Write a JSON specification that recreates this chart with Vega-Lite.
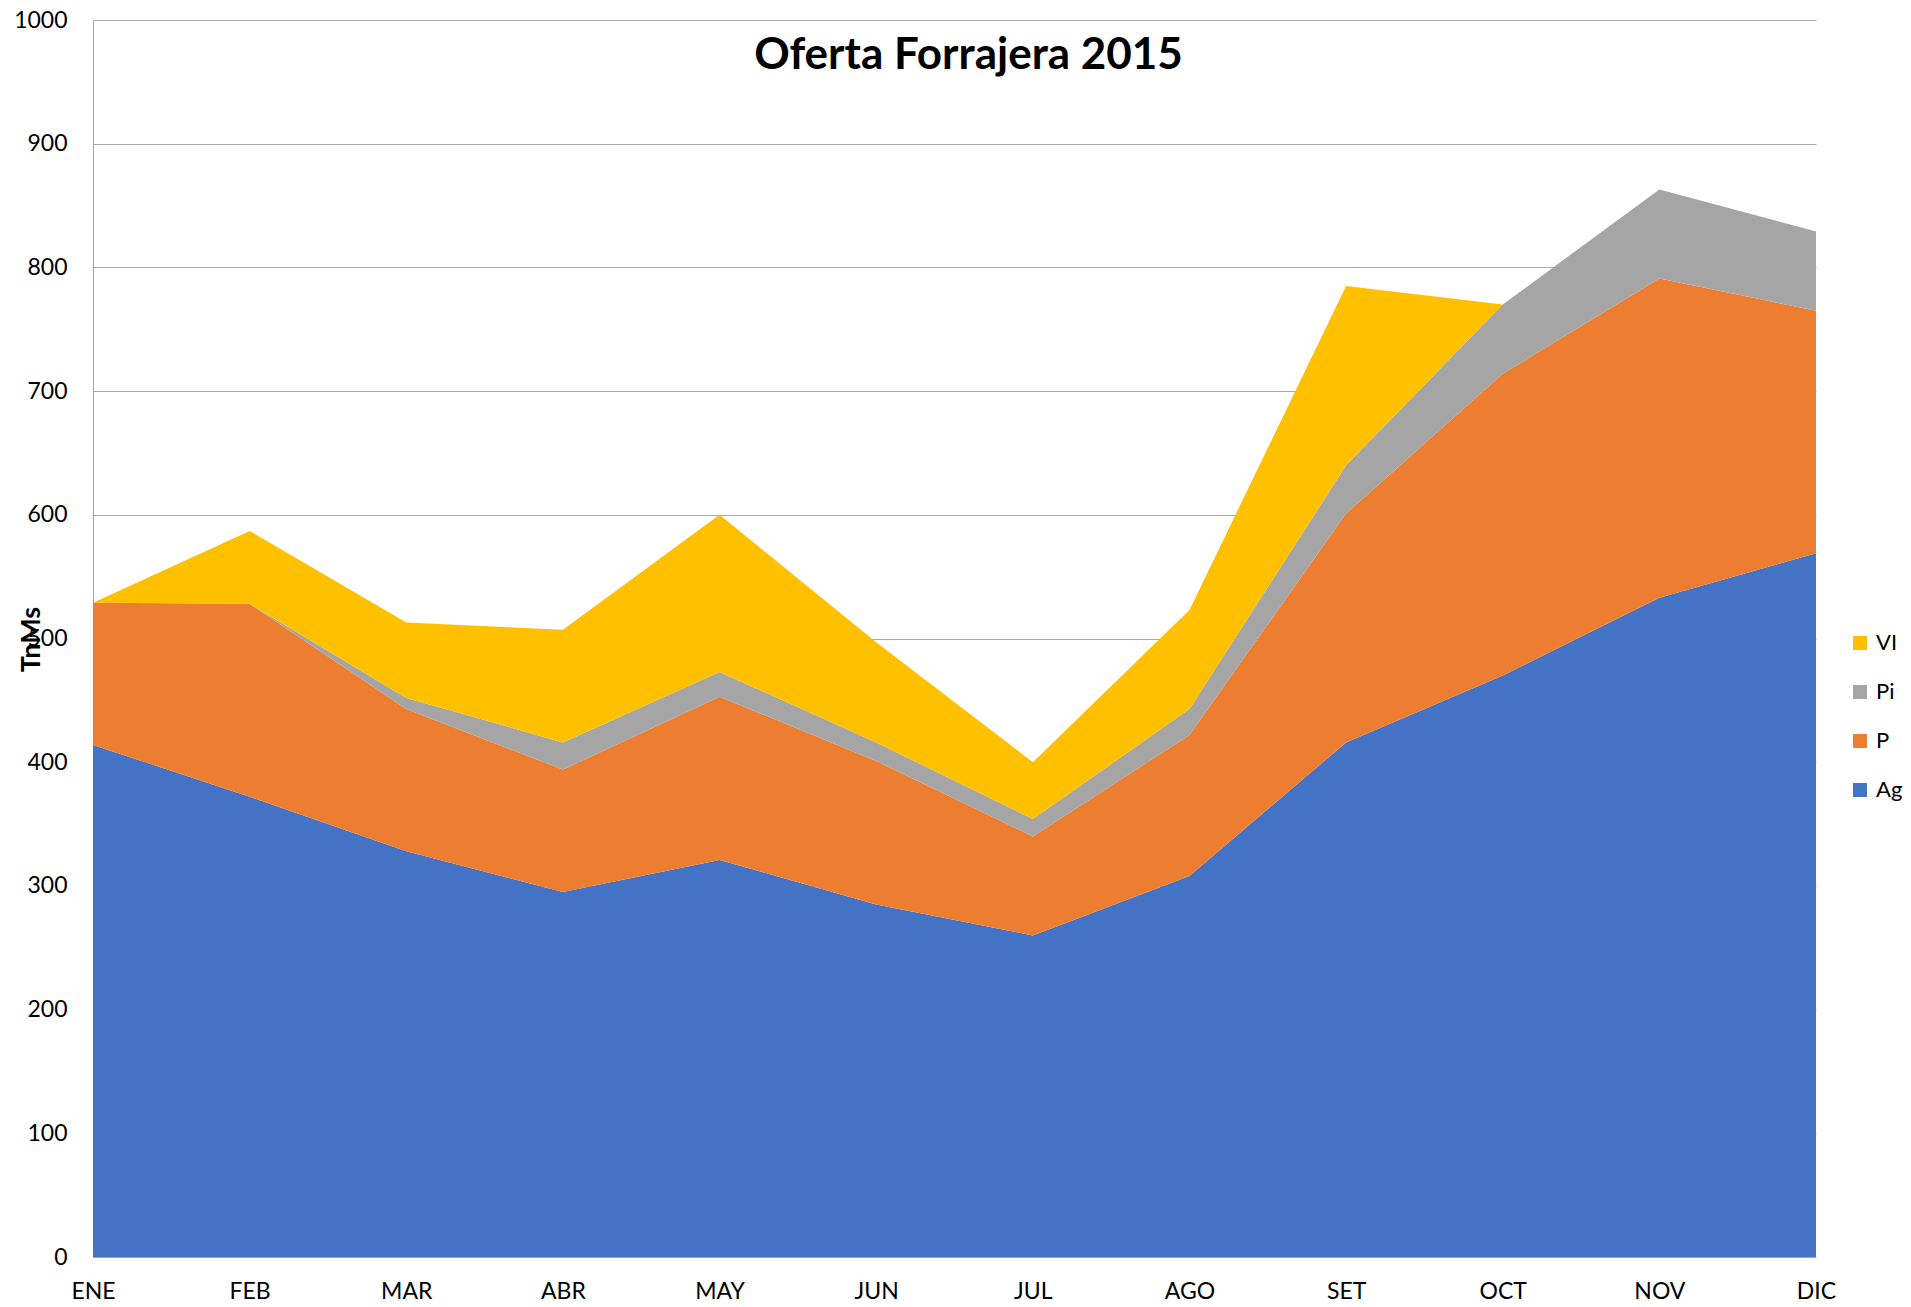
{
  "$schema": "https://vega.github.io/schema/vega-lite/v6.json",
  "width": 1723,
  "height": 1237,
  "autosize": "none",
  "padding": {"left": 93, "top": 20, "right": 95, "bottom": 50},
  "background": "white",
  "title": {
    "text": "Oferta Forrajera 2015",
    "anchor": "middle",
    "baseline": "alphabetic",
    "offset": -104,
    "dx": 14,
    "font": "Lato",
    "fontSize": 44,
    "fontWeight": "bold",
    "color": "#000000"
  },
  "data": {
    "values": [
      {"mes": "ENE", "serie": "Ag", "valor": 414},
      {"mes": "ENE", "serie": "P", "valor": 115},
      {"mes": "ENE", "serie": "Pi", "valor": 0},
      {"mes": "ENE", "serie": "VI", "valor": 0},
      {"mes": "FEB", "serie": "Ag", "valor": 372},
      {"mes": "FEB", "serie": "P", "valor": 156},
      {"mes": "FEB", "serie": "Pi", "valor": 0},
      {"mes": "FEB", "serie": "VI", "valor": 59},
      {"mes": "MAR", "serie": "Ag", "valor": 328},
      {"mes": "MAR", "serie": "P", "valor": 115},
      {"mes": "MAR", "serie": "Pi", "valor": 9},
      {"mes": "MAR", "serie": "VI", "valor": 61},
      {"mes": "ABR", "serie": "Ag", "valor": 295},
      {"mes": "ABR", "serie": "P", "valor": 99},
      {"mes": "ABR", "serie": "Pi", "valor": 22},
      {"mes": "ABR", "serie": "VI", "valor": 91},
      {"mes": "MAY", "serie": "Ag", "valor": 321},
      {"mes": "MAY", "serie": "P", "valor": 132},
      {"mes": "MAY", "serie": "Pi", "valor": 20},
      {"mes": "MAY", "serie": "VI", "valor": 127},
      {"mes": "JUN", "serie": "Ag", "valor": 285},
      {"mes": "JUN", "serie": "P", "valor": 116},
      {"mes": "JUN", "serie": "Pi", "valor": 15},
      {"mes": "JUN", "serie": "VI", "valor": 81},
      {"mes": "JUL", "serie": "Ag", "valor": 260},
      {"mes": "JUL", "serie": "P", "valor": 80},
      {"mes": "JUL", "serie": "Pi", "valor": 14},
      {"mes": "JUL", "serie": "VI", "valor": 46},
      {"mes": "AGO", "serie": "Ag", "valor": 308},
      {"mes": "AGO", "serie": "P", "valor": 114},
      {"mes": "AGO", "serie": "Pi", "valor": 21},
      {"mes": "AGO", "serie": "VI", "valor": 80},
      {"mes": "SET", "serie": "Ag", "valor": 416},
      {"mes": "SET", "serie": "P", "valor": 185},
      {"mes": "SET", "serie": "Pi", "valor": 39},
      {"mes": "SET", "serie": "VI", "valor": 145},
      {"mes": "OCT", "serie": "Ag", "valor": 470},
      {"mes": "OCT", "serie": "P", "valor": 244},
      {"mes": "OCT", "serie": "Pi", "valor": 56},
      {"mes": "OCT", "serie": "VI", "valor": 0},
      {"mes": "NOV", "serie": "Ag", "valor": 533},
      {"mes": "NOV", "serie": "P", "valor": 258},
      {"mes": "NOV", "serie": "Pi", "valor": 72},
      {"mes": "NOV", "serie": "VI", "valor": 0},
      {"mes": "DIC", "serie": "Ag", "valor": 569},
      {"mes": "DIC", "serie": "P", "valor": 196},
      {"mes": "DIC", "serie": "Pi", "valor": 64},
      {"mes": "DIC", "serie": "VI", "valor": 0}
    ]
  },
  "mark": {"type": "area", "opacity": 1, "line": false},
  "encoding": {
    "x": {
      "field": "mes",
      "type": "ordinal",
      "sort": ["ENE","FEB","MAR","ABR","MAY","JUN","JUL","AGO","SET","OCT","NOV","DIC"],
      "scale": {"type": "point", "padding": 0},
      "axis": {
        "title": null,
        "labelAngle": 0,
        "domain": false,
        "ticks": false,
        "grid": false,
        "labelPadding": 23,
        "labelFont": "Lato",
        "labelFontSize": 23,
        "labelColor": "#000000"
      }
    },
    "y": {
      "field": "valor",
      "type": "quantitative",
      "stack": "zero",
      "scale": {"domain": [0, 1000], "nice": false},
      "axis": {
        "title": "TnMs",
        "values": [0,100,200,300,400,500,600,700,800,900,1000],
        "format": "d",
        "ticks": false,
        "domain": true,
        "domainColor": "#a6a6a6",
        "grid": true,
        "gridColor": "#a6a6a6",
        "gridWidth": 1,
        "labelPadding": 26,
        "labelFont": "Lato",
        "labelFontSize": 23,
        "labelColor": "#000000",
        "titleFont": "Lato",
        "titleFontSize": 27,
        "titleFontWeight": "bold",
        "titleColor": "#000000",
        "titleAngle": -90,
        "titleX": -62,
        "titleY": 619,
        "titleAlign": "center",
        "titleBaseline": "middle"
      }
    },
    "color": {
      "field": "serie",
      "type": "nominal",
      "sort": "descending",
      "scale": {
        "domain": ["VI", "Pi", "P", "Ag"],
        "range": ["#FFC000", "#A5A5A5", "#ED7D31", "#4472C4"]
      },
      "legend": {
        "title": null,
        "orient": "none",
        "legendX": 1756,
        "legendY": 612,
        "padding": 0,
        "symbolType": "square",
        "symbolSize": 196,
        "symbolOpacity": 1,
        "symbolStrokeWidth": 0,
        "labelFont": "Lato",
        "labelFontSize": 22,
        "labelColor": "#000000",
        "labelOffset": 5,
        "rowPadding": 27
      }
    },
    "order": {"field": "serie", "sort": "ascending"}
  },
  "config": {
    "view": {"stroke": null}
  }
}
